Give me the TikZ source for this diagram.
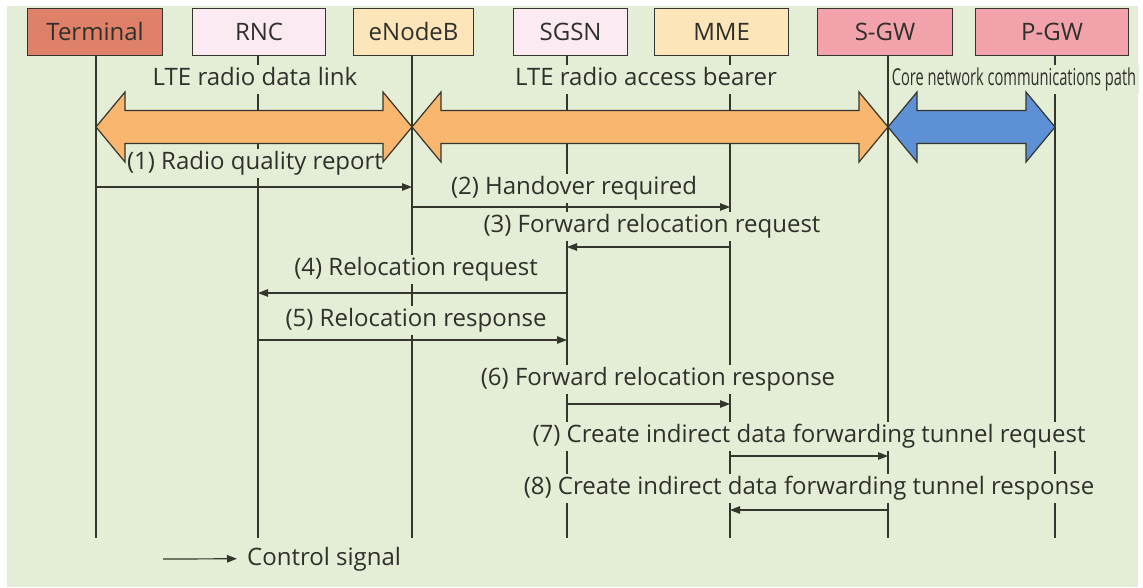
\documentclass[tikz,border=0pt]{standalone}
\usepackage{fontspec}
\setmainfont{Open Sans}
\usetikzlibrary{arrows.meta,calc}

\definecolor{bgc}{HTML}{E4EDD5}
\definecolor{ink}{HTML}{34352C}
\definecolor{txt}{HTML}{2F302B}
\definecolor{termc}{HTML}{DF8169}
\definecolor{pinkc}{HTML}{FCEAF2}
\definecolor{creamc}{HTML}{FDE5BA}
\definecolor{gwc}{HTML}{F2A2AA}
\definecolor{orangec}{HTML}{F8B66F}
\definecolor{bluec}{HTML}{5E90D5}

\tikzset{
  entity/.style={draw=ink, line width=1.2pt, anchor=north west, minimum height=47pt,
    inner sep=0pt, text height=17pt, text depth=0pt, text=txt},
  lifeline/.style={draw=ink, line width=1.2pt},
  lbl/.style={anchor=base, fill=bgc, text=txt, inner xsep=3pt, inner ysep=3pt,
    text height=17.5pt, text depth=5.5pt},
  msg/.style={draw=ink, line width=1.2pt, -{Triangle[length=10pt,width=7.5pt]}},
  bigarr/.style={draw=ink, line width=1.2pt, line join=miter},
}

% double-headed block arrow between two lifeline columns
\newcommand\dblarrow[3]{%
  \draw[bigarr, fill=#3]
    ($(#1)+(0,127)$) -- ($(#1)+(29,92)$) -- ($(#1)+(29,110.5)$) --
    ($(#2)+(-29,110.5)$) -- ($(#2)+(-29,92)$) -- ($(#2)+(0,127)$) --
    ($(#2)+(-29,162)$) -- ($(#2)+(-29,143.5)$) -- ($(#1)+(29,143.5)$) --
    ($(#1)+(29,162)$) -- cycle;}

\begin{document}
\begin{tikzpicture}[x=1pt, y=-1pt, font=\fontsize{24}{29}\selectfont]
\useasboundingbox (0,0) rectangle (1143,587);
\fill[white] (0,0) rectangle (1143,587);
\fill[bgc] (7,6) rectangle (1138,587);

% entities
\node[entity, fill=termc,  minimum width=135pt] (term) at (27,8)  {Terminal};
\node[entity, fill=pinkc,  minimum width=133pt] (rnc)  at (192,8) {RNC};
\node[entity, fill=creamc, minimum width=120pt] (enb)  at (353,8) {eNodeB};
\node[entity, fill=pinkc,  minimum width=114pt] (sgsn) at (513,8) {SGSN};
\node[entity, fill=creamc, minimum width=134pt] (mme)  at (654,8) {MME};
\node[entity, fill=gwc,    minimum width=135pt] (sgw)  at (817,8) {S-GW};
\node[entity, fill=gwc,    minimum width=153pt] (pgw)  at (975,8) {P-GW};

% lifeline columns
\coordinate (xT) at (96,0);
\coordinate (xR) at (258,0);
\coordinate (xE) at (412,0);
\coordinate (xS) at (567,0);
\coordinate (xM) at (730,0);
\coordinate (xG) at (888,0);
\coordinate (xP) at (1055,0);

\foreach \c/\n in {xT/term, xR/rnc, xE/enb, xS/sgsn, xM/mme, xG/sgw, xP/pgw}
  \draw[lifeline] (\c |- \n.south) -- ($(\c)+(0,538)$);

% bearer labels
\node[lbl] (l1) at (255,85)  {LTE radio data link};
\node[lbl] (l2) at (646,85)  {LTE radio access bearer};
\node[lbl] (l3) at (1014,85) {\scalebox{0.61}[0.97]{Core network communications path}};

% message labels
\node[lbl] (t1) at (255,169) {(1) Radio quality report};
\node[lbl] (t2) at (574,194) {(2) Handover required};
\node[lbl] (t3) at (652,232) {(3) Forward relocation request};
\node[lbl] (t4) at (416,275) {(4) Relocation request};
\node[lbl] (t5) at (416,326) {(5) Relocation response};
\node[lbl] (t6) at (658,385) {(6) Forward relocation response};
\node[lbl] (t7) at (809,442) {(7) Create indirect data forwarding tunnel request};
\node[lbl] (t8) at (809,494) {(8) Create indirect data forwarding tunnel response};

% bearers
\dblarrow{xT}{xE}{orangec}
\dblarrow{xE}{xG}{orangec}
\dblarrow{xG}{xP}{bluec}

% control signals
\draw[msg] ($(xT)+(0,187)$) -- ($(xE)+(0,187)$);
\draw[msg] ($(xE)+(0,207)$) -- ($(xM)+(0,207)$);
\draw[msg] ($(xM)+(0,247)$) -- ($(xS)+(0,247)$);
\draw[msg] ($(xS)+(0,293)$) -- ($(xR)+(0,293)$);
\draw[msg] ($(xR)+(0,340)$) -- ($(xS)+(0,340)$);
\draw[msg] ($(xS)+(0,404)$) -- ($(xM)+(0,404)$);
\draw[msg] ($(xM)+(0,456)$) -- ($(xG)+(0,456)$);
\draw[msg] ($(xG)+(0,510)$) -- ($(xM)+(0,510)$);

% legend
\node[anchor=base west, text=txt, inner sep=0pt] (legend) at (247,565) {Control signal};
\coordinate (lgs) at (163,559);
\draw[msg] (lgs) -- ($(legend.west)+(-10,0)$);
\end{tikzpicture}
\end{document}
